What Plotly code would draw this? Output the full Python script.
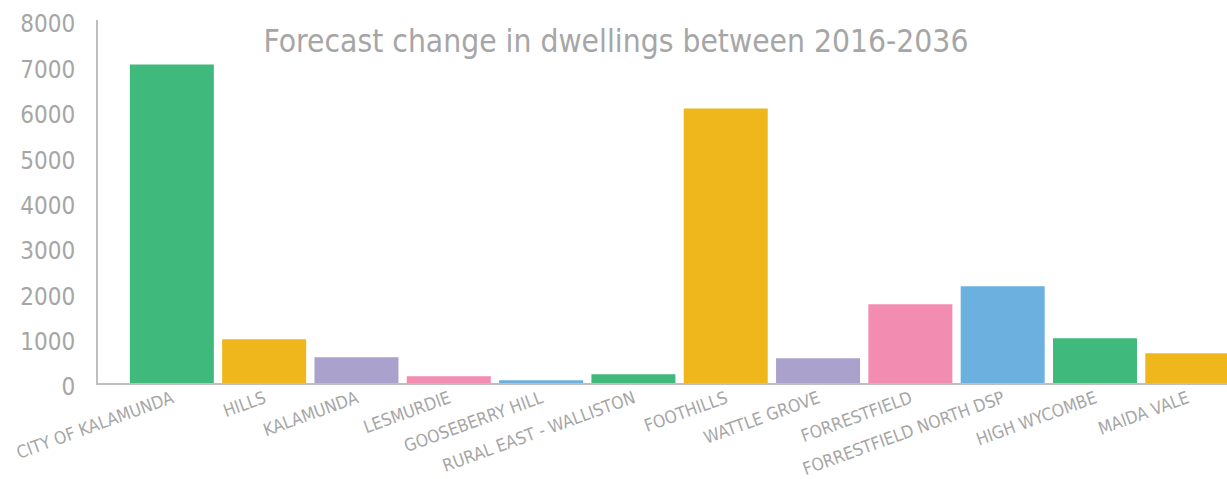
import plotly.graph_objects as go

categories = ["CITY OF KALAMUNDA", "HILLS", "KALAMUNDA", "LESMURDIE", "GOOSEBERRY HILL",
              "RURAL EAST - WALLISTON", "FOOTHILLS", "WATTLE GROVE", "FORRESTFIELD",
              "FORRESTFIELD NORTH DSP", "HIGH WYCOMBE", "MAIDA VALE"]
values = [7020, 962, 566, 148, 59, 192, 6050, 544, 1733, 2130, 985, 654]
palette = ["#40BA7C", "#F0B71C", "#AAA1CC", "#F28CB0", "#6CB0DF"]
y_ticks = [0, 1000, 2000, 3000, 4000, 5000, 6000, 7000, 8000]
title_text = "Forecast change in dwellings between 2016-2036"

colors = [palette[i % len(palette)] for i in range(len(categories))]
FONT = "DejaVu Sans Condensed"
GRAY = "#A6A6A6"

fig = go.Figure(go.Bar(x=categories, y=values, marker=dict(color=colors, line=dict(width=0))))

fig.update_layout(
    width=1227, height=479,
    margin=dict(l=98, r=0, t=20, b=96, pad=0),
    paper_bgcolor="white", plot_bgcolor="white",
    bargap=0.09,
    showlegend=False,
    font=dict(family=FONT, color=GRAY),
    title=dict(text=title_text, x=616 / 1227, xanchor="center", xref="container",
               y=1 - 41 / 479, yanchor="middle", yref="container",
               font=dict(family=FONT, size=31.5, color=GRAY)),
)
fig.update_xaxes(
    range=[-0.80, 11.43], showline=True, linecolor="#BFBFBF", linewidth=2,
    ticks="", tickangle=-20, ticklabelstandoff=-3,
    tickfont=dict(family=FONT, size=17.4, color=GRAY),
    showgrid=False, zeroline=False, automargin=False,
)
fig.update_yaxes(
    range=[0, 8000], tickvals=y_ticks, ticktext=[str(v) for v in y_ticks],
    showline=True, linecolor="#BFBFBF", linewidth=2,
    ticks="", ticklabelstandoff=16, ticklabelshift=4,
    tickfont=dict(family=FONT, size=24, color=GRAY),
    showgrid=False, zeroline=False, automargin=False,
)

fig.write_html("out.html", config={"displayModeBar": False},
               post_script="document.body.style.margin='0px';")
